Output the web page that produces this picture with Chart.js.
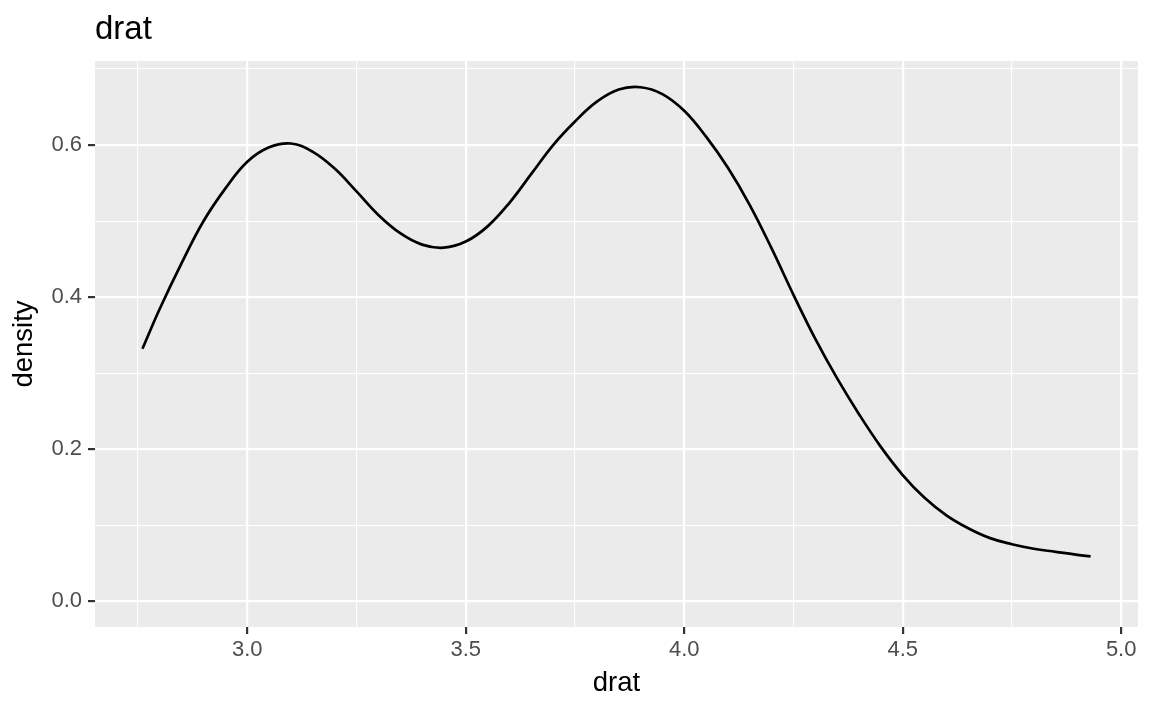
<!DOCTYPE html>
<html>
<head>
<meta charset="utf-8">
<script src="https://cdn.jsdelivr.net/npm/chart.js@4"></script>
<style>
  html, body { margin: 0; padding: 0; background: #fff; }
  canvas { display: block; }
</style>
</head>
<body>
<canvas id="densityChart" width="1152" height="711"></canvas>
<script>
// density of drat
const dratX = [2.76, 2.80, 2.85, 2.90, 2.95, 3.00, 3.05, 3.10, 3.15, 3.20, 3.25, 3.30, 3.35, 3.40, 3.45,
  3.50, 3.55, 3.60, 3.65, 3.70, 3.75, 3.80, 3.85, 3.90, 3.95, 4.00, 4.05, 4.10, 4.15, 4.20, 4.25,
  4.30, 4.35, 4.40, 4.45, 4.50, 4.55, 4.60, 4.65, 4.70, 4.75, 4.80, 4.85, 4.90, 4.93];
const densityY = [0.332, 0.385, 0.445, 0.500, 0.543, 0.578, 0.597, 0.602, 0.591, 0.569, 0.539, 0.508, 0.484, 0.469, 0.465,
  0.473, 0.493, 0.524, 0.562, 0.600, 0.631, 0.657, 0.673, 0.676, 0.667, 0.645, 0.611, 0.570, 0.521, 0.464, 0.403,
  0.345, 0.293, 0.246, 0.203, 0.166, 0.136, 0.113, 0.096, 0.083, 0.075, 0.069, 0.065, 0.061, 0.059];

const xMajor = [3.0, 3.5, 4.0, 4.5, 5.0];
const xMinor = [2.75, 3.25, 3.75, 4.25, 4.75];
const yMajor = [0.0, 0.2, 0.4, 0.6];
const yMinor = [0.1, 0.3, 0.5, 0.7];

const isMajor = (list, v) => list.some(m => Math.abs(m - v) < 1e-9);

const panelBg = {
  id: 'panelBg',
  beforeDraw(chart) {
    const {ctx, chartArea: a} = chart;
    ctx.save();
    ctx.fillStyle = '#EBEBEB';
    ctx.fillRect(a.left, a.top, a.right - a.left, a.bottom - a.top);
    ctx.restore();
  },
  afterDraw(chart) {
    const {ctx, chartArea: a} = chart;
    ctx.save();
    ctx.fillStyle = '#000';
    ctx.font = '33px "Liberation Sans", Arial, sans-serif';
    ctx.textBaseline = 'alphabetic';
    ctx.fillText('drat', a.left, 39);
    ctx.restore();
  }
};

function gridOpts(majors) {
  return {
    color: '#FFFFFF',
    lineWidth: c => isMajor(majors, c.tick.value) ? 2.2 : 1.1,
    drawTicks: true,
    tickLength: 7,
    tickColor: c => isMajor(majors, c.tick.value) ? '#333333' : 'rgba(0,0,0,0)',
    tickWidth: 2.2
  };
}

new Chart(document.getElementById('densityChart').getContext('2d'), {
  type: 'line',
  data: {
    datasets: [{
      label: 'density',
      data: dratX.map((x, i) => ({x: x, y: densityY[i]})),
      borderColor: '#000000',
      borderWidth: 2.7,
      pointRadius: 0,
      tension: 0.4,
      fill: false
    }]
  },
  options: {
    responsive: false,
    animation: false,
    devicePixelRatio: 1,
    layout: { padding: { top: 61, right: 14, bottom: 0, left: 0 } },
    plugins: { legend: { display: false }, tooltip: { enabled: false }, title: { display: false } },
    scales: {
      x: {
        type: 'linear',
        min: 2.6515,
        max: 5.0385,
        afterBuildTicks: s => { s.ticks = xMinor.concat(xMajor).sort((a, b) => a - b).map(v => ({value: v})); },
        afterFit: s => { s.height = 84; },
        grid: gridOpts(xMajor),
        border: { display: false },
        ticks: {
          autoSkip: false,
          maxRotation: 0,
          padding: 3,
          color: '#4D4D4D',
          font: { family: '"Liberation Sans", Arial, sans-serif', size: 22 },
          callback: v => isMajor(xMajor, v) ? v.toFixed(1) : ''
        },
        title: {
          display: true,
          text: 'drat',
          color: '#000000',
          font: { family: '"Liberation Sans", Arial, sans-serif', size: 27.5, lineHeight: 1 },
          padding: { top: 0, bottom: 14 }
        }
      },
      y: {
        type: 'linear',
        min: -0.0339,
        max: 0.7105,
        afterBuildTicks: s => { s.ticks = yMinor.concat(yMajor).sort((a, b) => a - b).map(v => ({value: v})); },
        afterFit: s => { s.width = 95; },
        grid: gridOpts(yMajor),
        border: { display: false },
        ticks: {
          autoSkip: false,
          padding: 6,
          color: '#4D4D4D',
          font: { family: '"Liberation Sans", Arial, sans-serif', size: 22 },
          callback: v => isMajor(yMajor, v) ? v.toFixed(1) : ''
        },
        title: {
          display: true,
          text: 'density',
          color: '#000000',
          font: { family: '"Liberation Sans", Arial, sans-serif', size: 27.5, lineHeight: 1 },
          padding: { top: 11, bottom: 0 }
        }
      }
    }
  },
  plugins: [panelBg]
});
</script>
</body>
</html>
